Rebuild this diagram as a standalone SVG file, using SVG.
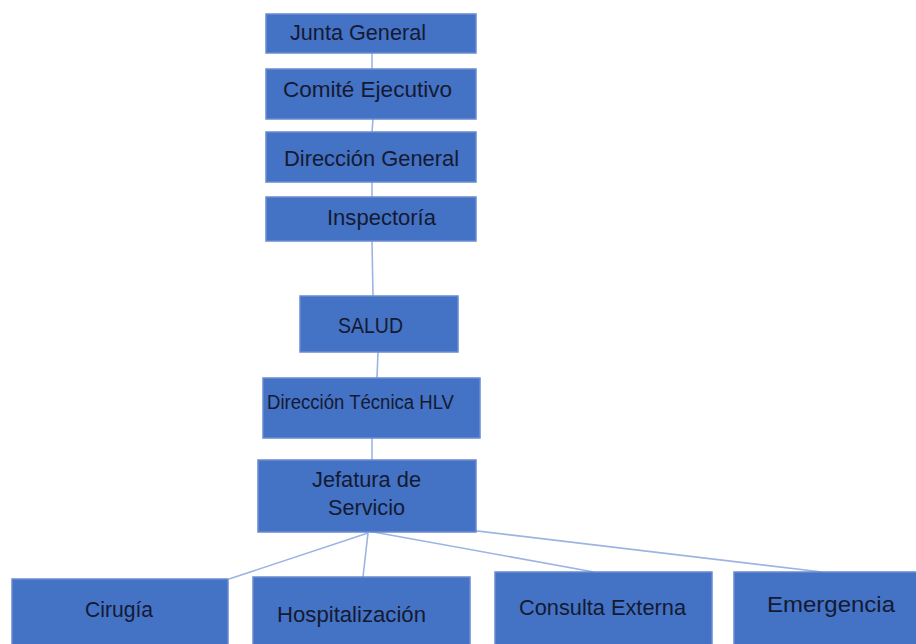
<svg xmlns="http://www.w3.org/2000/svg" width="916" height="644" viewBox="0 0 916 644">
<style>
.box{fill:#4472c4;stroke:#6a8bd0;stroke-width:1.5}
.lbl{font-family:"Liberation Sans",Arial,sans-serif;font-size:21.5px;fill:#141a33}
.sm{font-size:19.5px}
.ln{stroke:#9db4e3;stroke-width:1.6;fill:none}
</style>
<rect width="916" height="644" fill="#ffffff"/>
<g id="connectors">
<line class="ln" x1="372" y1="53" x2="372" y2="69"/>
<line class="ln" x1="373" y1="119" x2="372" y2="132"/>
<line class="ln" x1="372" y1="182" x2="372" y2="197"/>
<line class="ln" x1="372" y1="241" x2="373" y2="296"/>
<line class="ln" x1="378" y1="352" x2="377" y2="378"/>
<line class="ln" x1="372" y1="438" x2="372" y2="460"/>
<line class="ln" x1="368" y1="533" x2="229" y2="579"/>
<line class="ln" x1="368" y1="533" x2="363" y2="577"/>
<line class="ln" x1="368" y1="531" x2="594" y2="572"/>
<line class="ln" x1="368" y1="518" x2="822" y2="572"/>
</g>
<g id="junta"><rect class="box" x="266" y="14" width="210" height="39"/><text class="lbl" x="290" y="40" textLength="136" lengthAdjust="spacingAndGlyphs">Junta General</text></g>
<g id="comite"><rect class="box" x="266" y="69" width="210" height="50"/><text class="lbl" x="283" y="97" textLength="169" lengthAdjust="spacingAndGlyphs">Comité Ejecutivo</text></g>
<g id="direccion-general"><rect class="box" x="266" y="132" width="210" height="50"/><text class="lbl" x="284" y="166" textLength="175" lengthAdjust="spacingAndGlyphs">Dirección General</text></g>
<g id="inspectoria"><rect class="box" x="266" y="197" width="210" height="44"/><text class="lbl" x="327" y="225" textLength="109" lengthAdjust="spacingAndGlyphs">Inspectoría</text></g>
<g id="salud"><rect class="box" x="300" y="296" width="158" height="56"/><text class="lbl" x="338" y="333" textLength="65" lengthAdjust="spacingAndGlyphs">SALUD</text></g>
<g id="direccion-tecnica"><rect class="box" x="263" y="378" width="217" height="60"/><text class="lbl sm" x="267" y="409" textLength="187" lengthAdjust="spacingAndGlyphs">Dirección Técnica HLV</text></g>
<g id="jefatura"><rect class="box" x="258" y="460" width="218" height="72"/><text class="lbl" x="312" y="487" textLength="109" lengthAdjust="spacingAndGlyphs">Jefatura de</text><text class="lbl" x="328" y="515" textLength="77" lengthAdjust="spacingAndGlyphs">Servicio</text></g>
<g id="cirugia"><rect class="box" x="12" y="579" width="216" height="70"/><text class="lbl" x="85" y="617" textLength="68" lengthAdjust="spacingAndGlyphs">Cirugía</text></g>
<g id="hospitalizacion"><rect class="box" x="253" y="577" width="217" height="72"/><text class="lbl" x="277" y="622" textLength="149" lengthAdjust="spacingAndGlyphs">Hospitalización</text></g>
<g id="consulta"><rect class="box" x="495" y="572" width="217" height="77"/><text class="lbl" x="519" y="615" textLength="167" lengthAdjust="spacingAndGlyphs">Consulta Externa</text></g>
<g id="emergencia"><rect class="box" x="734" y="572" width="190" height="77"/><text class="lbl" x="767" y="612" textLength="128" lengthAdjust="spacingAndGlyphs">Emergencia</text></g>
</svg>
